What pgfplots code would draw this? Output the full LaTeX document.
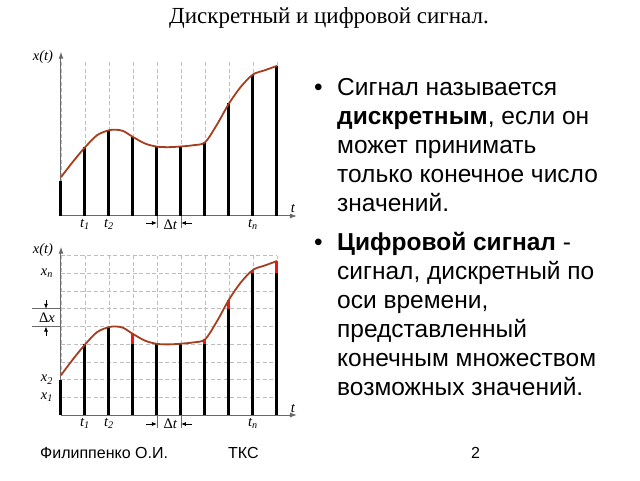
\documentclass[border=0pt]{standalone}
\usepackage{fontspec}
\setmainfont{Liberation Sans}
\newfontfamily\tnr{Liberation Serif}
\usepackage{pgfplots}
\pgfplotsset{compat=1.18}
\usetikzlibrary{arrows.meta}

\definecolor{curvebrown}{RGB}{165,62,30}
\definecolor{quantred}{RGB}{240,20,20}
\definecolor{gridgray}{RGB}{190,190,190}
\definecolor{axisgray}{RGB}{105,105,105}

\newcommand{\lbl}{\tnr\itshape\fontsize{14.5}{14.5}\selectfont}

\pgfplotstableread{
t   x     q
0   2.00  2
1   3.98  4
2   4.97  5
3   4.58  4
4   4.02  4
5   4.03  4
6   4.27  4
7   6.52  6
8   8.20  8
9   8.70  8
}\samples

\pgfplotsset{
  signal/.style={
    scale only axis, width=216pt,
    xmin=0, xmax=9, ymin=0, ymax=9,
    axis lines=left, clip=false,
    axis line style={axisgray, line width=1pt},
    x axis line style={-{Latex[length=7pt,width=5pt]}, shorten >=-20pt},
    y axis line style={-{Latex[length=7pt,width=5pt]}, shorten >=-9pt},
    minor xtick={0,...,9}, minor ytick={0,...,9},
    grid=minor,
    minor grid style={gridgray, line width=0.8pt, dash pattern=on 4pt off 2.5pt},
    major tick length=0pt, minor tick length=0pt,
    xtick={1,2,8},
    xticklabels={\textit{t}\textsubscript{\textit{1}}, \textit{t}\textsubscript{\textit{2}}, \textit{t}\textsubscript{\textit{n}}},
    extra x ticks={4.55}, extra x tick labels={{\upshape Δ}\textit{t}},
    extra x tick style={grid=none},
    tick label style={font=\lbl},
  },
  curve/.style={smooth, curvebrown, line width=1.8pt, mark=none},
}

\newcommand{\curvedata}{(0,2.25) (0.5,3.15) (1,3.98) (1.5,4.68) (2,4.97) (2.3,5.0) (2.6,4.92) (3,4.58) (3.5,4.2) (4,4.02) (4.5,3.99) (5,4.03) (5.5,4.1) (6,4.27) (6.5,5.3) (7,6.52) (7.5,7.5) (8,8.2) (8.5,8.45) (9,8.7)}

\begin{document}
\begin{tikzpicture}[x=1pt,y=1pt]
\useasboundingbox (0,0) rectangle (640,480);

% title
\node[anchor=base, inner sep=0] at (329,456.5) {\tnr\fontsize{23}{23}\selectfont Дискретный и цифровой сигнал.};

% --- top: discrete signal
\begin{axis}[signal, height=155.3pt, at={(61pt,264pt)}, anchor=south west, ytick=\empty]
  \addplot[ycomb, black, line width=3pt, mark=none] table[x=t, y=x] {\samples};
  \addplot[curve] coordinates {\curvedata};
  \draw[axisgray, line width=0.8pt] (axis cs:4,0) -- ++(0,-12pt) (axis cs:5,0) -- ++(0,-12pt);
  \draw[-{Latex[length=5pt,width=4pt]}, line width=0.8pt] (axis cs:4,0) ++(-11pt,-7pt) -- ++(11pt,0);
  \draw[-{Latex[length=5pt,width=4pt]}, line width=0.8pt] (axis cs:5,0) ++(11pt,-7pt) -- ++(-11pt,0);
  \node[font=\lbl] at (axis cs:0,9) [xshift=-18pt, yshift=4pt] {x(t)};
  \node[font=\lbl] at (axis cs:9,0) [xshift=16pt, yshift=8pt] {t};
\end{axis}

% --- bottom: digital signal
\begin{axis}[signal, height=159.3pt, at={(61pt,65pt)}, anchor=south west,
  ytick={1,2,8},
  yticklabels={\textit{x}\textsubscript{\textit{1}}, \textit{x}\textsubscript{\textit{2}}, \textit{x}\textsubscript{\textit{n}}},
  extra y ticks={5.5}, extra y tick labels={{\upshape Δ}\textit{x}},
  extra y tick style={grid=none},
  yticklabel style={anchor=center, xshift=-14pt}]
  \addplot[ycomb, quantred, line width=3pt, mark=none] table[x=t, y=x] {\samples};
  \addplot[ycomb, black, line width=3pt, mark=none] table[x=t, y=q] {\samples};
  \addplot[curve] coordinates {\curvedata};
  \draw[axisgray, line width=0.8pt] (axis cs:4,0) -- ++(0,-13pt) (axis cs:5,0) -- ++(0,-13pt);
  \draw[-{Latex[length=5pt,width=4pt]}, line width=0.8pt] (axis cs:4,0) ++(-11pt,-9pt) -- ++(11pt,0);
  \draw[-{Latex[length=5pt,width=4pt]}, line width=0.8pt] (axis cs:5,0) ++(11pt,-9pt) -- ++(-11pt,0);
  \draw[axisgray, line width=0.8pt] (axis cs:0,5) -- ++(-29pt,0) (axis cs:0,6) -- ++(-29pt,0);
  \draw[-{Latex[length=5pt,width=4pt]}, line width=0.8pt] (axis cs:0,6) ++(-15pt,9pt) -- ++(0,-9pt);
  \draw[-{Latex[length=5pt,width=4pt]}, line width=0.8pt] (axis cs:0,5) ++(-15pt,-9pt) -- ++(0,9pt);
  \node[font=\lbl] at (axis cs:0,9) [xshift=-18pt, yshift=6pt] {x(t)};
  \node[font=\lbl] at (axis cs:9,0) [xshift=16pt, yshift=7pt] {t};
\end{axis}

% bullet text
\begin{scope}[every node/.style={anchor=base west, inner sep=0, font=\fontsize{24.5}{24.5}\selectfont}]
  \node at (314,384) {•};
  \node at (337,384) {Сигнал называется};
  \node at (337,355) {\textbf{дискретным}, если он};
  \node at (337,326) {может принимать};
  \node at (337,297) {только конечное число};
  \node at (337,268) {значений.};
  \node at (314,229.5) {•};
  \node at (337,229.5) {\textbf{Цифровой сигнал} -};
  \node at (337,200.5) {сигнал, дискретный по};
  \node at (337,171.5) {оси времени,};
  \node at (337,142.5) {представленный};
  \node at (337,113.5) {конечным множеством};
  \node at (337,84.5) {возможных значений.};
\end{scope}

% footer
\begin{scope}[every node/.style={anchor=base west, inner sep=0, font=\fontsize{16}{16}\selectfont}]
  \node at (40,22) {Филиппенко О.И.};
  \node at (228,22) {ТКС};
  \node at (471,22) {2};
\end{scope}
\end{tikzpicture}
\end{document}
